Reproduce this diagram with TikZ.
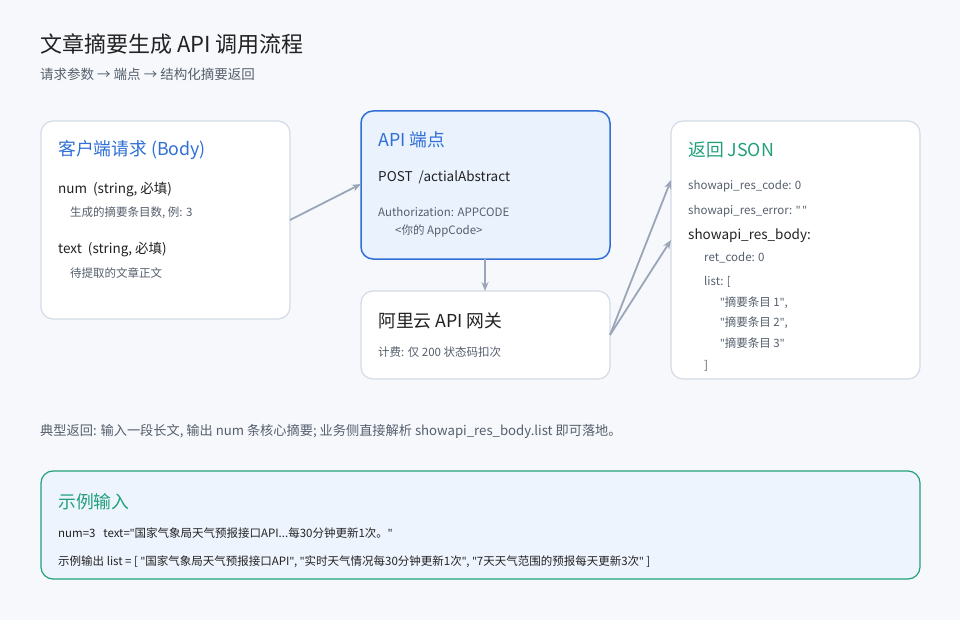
\documentclass[tikz,border=0pt]{standalone}
\usepackage{fontspec}
\setmainfont{Noto Sans CJK SC}
\newfontfamily\qf{Noto Sans}
\newcommand{\q}{{\qf\char"22}}
\usetikzlibrary{arrows.meta}
\definecolor{bg}{HTML}{F7F8FC}
\definecolor{bd}{HTML}{D3DBE6}
\definecolor{blu}{HTML}{2F6FD6}
\definecolor{bluf}{HTML}{EAF2FE}
\definecolor{grn}{HTML}{21A07A}
\definecolor{exf}{HTML}{EEF4FE}
\definecolor{arr}{HTML}{9AA6B8}
\definecolor{txt}{HTML}{222222}
\definecolor{sub}{HTML}{555F6D}
\begin{document}
\begin{tikzpicture}[x=1pt,y=-1pt,
 box/.style={draw=bd,line width=1.2pt,rounded corners=12pt,fill=white},
 t/.style={anchor=west,inner sep=0,text=txt},
 s/.style={anchor=west,inner sep=0,text=sub,font=\fontsize{11.5}{13}\selectfont},
 h/.style={anchor=west,inner sep=0,font=\fontsize{17.8}{20}\selectfont},
 m/.style={anchor=west,inner sep=0,text=txt,font=\fontsize{13.5}{16}\selectfont},
 ar/.style={draw=arr,line width=1.8pt,-{Stealth[length=9pt,width=7pt]}}]
\fill[bg] (0,0) rectangle (960,620);
\useasboundingbox (0,0) rectangle (960,620);
\node[t,font=\fontsize{22}{26}\selectfont] (title) at (40,44) {文章摘要生成 API 调用流程};
\node[s,font=\fontsize{13.5}{15}\selectfont] (subt) at (40,74) {请求参数 → 端点 → 结构化摘要返回};
% boxes
\draw[box] (41,121) rectangle (290,319);
\coordinate (cl) at (290,220);
\draw[box,fill=bluf,draw=blu,line width=1.5pt] (361,111) rectangle (610,259);
\coordinate (apiL) at (361,184); \coordinate (apiB) at (485,259);
\draw[box] (361,291) rectangle (610,379);
\coordinate (gwT) at (485,291); \coordinate (gwR) at (610,335);
\draw[box] (671,121) rectangle (920,379);
\coordinate (r1) at (671,180); \coordinate (r2) at (671,240);
\draw[box,fill=exf,draw=grn] (41,471) rectangle (920,579);
% arrows
\draw[ar] (cl) -- (apiL);
\draw[ar] (apiB) -- (gwT);
\draw[ar] (gwR) -- (r1);
\draw[ar] (gwR) -- (r2);
% client
\node[h,text=blu] (ch) at (58,150) {客户端请求 (Body)};
\node[m] (c1) at (58,190) {num\ \ (string, 必填)};
\node[s] (c2) at (70,213) {生成的摘要条目数, 例: 3};
\node[m] (c3) at (58,250) {text\ \ (string, 必填)};
\node[s] (c4) at (70,273) {待提取的文章正文};
% api
\node[h,text=blu] (ah) at (378,140) {API 端点};
\node[m] (a1) at (378,177) {POST\ \ /actialAbstract};
\node[s] (a2) at (378,212) {Authorization: APPCODE};
\node[s] (a3) at (395,231) {<你的 AppCode>};
% gateway
\node[h,text=txt] (gh) at (378,321) {阿里云 API 网关};
\node[s] (g1) at (378,352) {计费: 仅 200 状态码扣次};
% return
\node[h,text=grn] (rh) at (688,150) {返回 JSON};
\node[s] (rr1) at (688,186) {showapi\_res\_code: 0};
\node[s] (rr2) at (688,211) {showapi\_res\_error: \q{}\,\q{}};
\node[m] (rr3) at (688,236) {showapi\_res\_body:};
\node[s] (rr4) at (704,258) {ret\_code: 0};
\node[s] (rr5) at (704,282) {list: [};
\node[s] (rr6) at (720,303) {\q{}摘要条目 1\q{},};
\node[s] (rr7) at (720,323) {\q{}摘要条目 2\q{},};
\node[s] (rr8) at (720,343) {\q{}摘要条目 3\q{}};
\node[s] (rr9) at (704,366) {]};
% note
\node[s,font=\fontsize{13.2}{15}\selectfont] (note) at (40,431) {典型返回: 输入一段长文, 输出 num 条核心摘要; 业务侧直接解析 showapi\_res\_body.list 即可落地。};
% example
\node[h,text=grn] (eh) at (58,502) {示例输入};
\node[s,text=txt] (e1) at (58,533) {num=3\ \ \ text=\q{}国家气象局天气预报接口API...每30分钟更新1次。\q{}};
\node[s,text=txt] (e2) at (58,562) {示例输出 list = [ \q{}国家气象局天气预报接口API\q{}, \q{}实时天气情况每30分钟更新1次\q{}, \q{}7天天气范围的预报每天更新3次\q{}\ ]};
\end{tikzpicture}
\end{document}
